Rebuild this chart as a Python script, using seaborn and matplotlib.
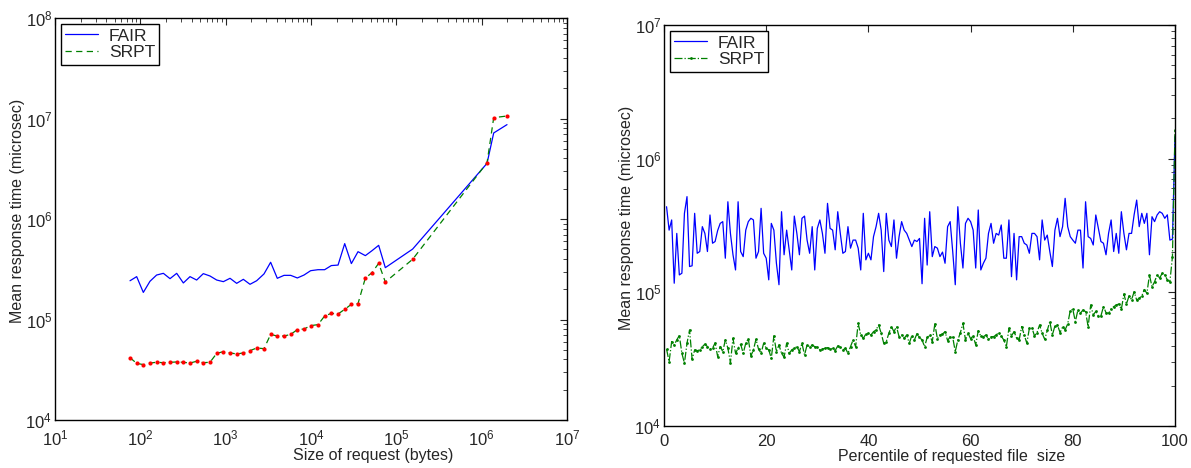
import numpy as np
import matplotlib
matplotlib.use("Agg")
import matplotlib.pyplot as plt
import seaborn as sns
from matplotlib.ticker import LogLocator, FixedLocator, NullFormatter

# left panel: mean response time by request size (bytes)
size_bytes = [75.7, 90.6, 108.4, 129.7, 155.2, 186.2, 222.8, 266.7, 319.2, 382.0,
              457.1, 547.0, 654.6, 785.2, 939.7, 1125, 1346, 1611, 1928, 2307,
              2812, 3365, 4027, 4831, 5781, 6918, 8279, 9908, 12078, 14454,
              17298, 20749, 24831, 29717, 35563, 43351, 51880, 62087, 74302, 155239,
              1156112, 1383566, 1981527]
fair_by_size = [243000, 267000, 186000, 240000, 277000, 288000, 255000, 288000, 231000, 267000,
                247000, 286000, 271000, 247000, 238000, 257000, 229000, 251000, 224000, 243000,
                284000, 371000, 257000, 275000, 275000, 259000, 277000, 306000, 313000, 313000,
                344000, 348000, 569000, 360000, 473000, 432000, 484000, 547000, 328000, 502000,
                3580000, 7180000, 8690000]
srpt_by_size = [41700, 36600, 35600, 36900, 37500, 37200, 37500, 37800, 37500, 36900,
                38400, 37200, 37500, 46000, 47900, 46500, 45400, 46500, 49000, 52000,
                51300, 71000, 68500, 68500, 71100, 79300, 80400, 86900, 88900, 108400,
                115100, 113500, 126200, 141600, 143900, 258800, 292400, 362200, 236000, 397200,
                3631000, 10190000, 10590000]

# right panel: mean response time by percentile of file size (thousands of microsec)
percentile = np.arange(0.5, 100.5, 0.5)
fair_by_pct_k = [
    437, 292, 348, 117, 276, 135, 139, 390, 520, 156,
    158, 390, 196, 202, 310, 276, 202, 379, 233, 240,
    290, 328, 338, 180, 476, 276, 191, 147, 476, 202,
    185, 292, 338, 358, 348, 180, 202, 425, 196, 180,
    124, 328, 292, 165, 114, 401, 191, 292, 208, 147,
    372, 276, 191, 358, 372, 246, 196, 310, 147, 301,
    348, 276, 196, 463, 301, 292, 208, 401, 276, 196,
    202, 310, 214, 246, 246, 214, 147, 390, 175, 196,
    175, 261, 310, 390, 292, 143, 390, 246, 220, 348,
    180, 261, 338, 292, 276, 246, 220, 246, 240, 253,
    116, 358, 160, 401, 185, 220, 214, 185, 200, 165,
    310, 338, 202, 114, 437, 233, 152, 328, 358, 338,
    292, 152, 413, 147, 165, 180, 276, 328, 233, 276,
    268, 319, 180, 180, 348, 131, 276, 124, 261, 261,
    233, 226, 196, 276, 276, 261, 175, 348, 246, 268,
    202, 156, 292, 358, 261, 310, 505, 310, 261, 246,
    233, 292, 292, 152, 476, 261, 253, 226, 379, 301,
    240, 233, 191, 276, 348, 202, 276, 196, 401, 276,
    208, 276, 276, 380, 490, 310, 390, 328, 390, 191,
    368, 338, 379, 401, 390, 358, 380, 246, 250, 1460]
srpt_by_pct_k = [
    37.6, 30.3, 42.8, 40.4, 44.1, 47.5, 35.0, 29.5, 41.6, 52.3,
    31.6, 37.1, 36.6, 37.1, 39.3, 40.9, 39.3, 37.6, 38.2, 41.8,
    33.1, 39.3, 36.0, 44.1, 38.2, 29.8, 45.3, 35.0, 38.2, 40.9,
    35.0, 41.6, 44.8, 33.4, 37.1, 44.5, 37.6, 35.0, 41.6, 38.2,
    37.1, 32.1, 47.2, 36.0, 40.4, 35.0, 32.7, 41.6, 35.0, 37.1,
    38.1, 39.2, 36.0, 41.6, 34.0, 40.4, 39.2, 40.4, 39.2, 38.8,
    37.1, 37.7, 38.1, 38.6, 37.5, 38.1, 36.7, 39.7, 39.2, 37.1,
    38.1, 35.0, 39.2, 44.0, 39.2, 58.6, 48.0, 45.3, 48.8, 49.4,
    48.0, 50.8, 52.3, 57.0, 49.4, 41.6, 42.8, 49.4, 55.4, 50.8,
    55.4, 46.6, 48.0, 45.3, 48.0, 41.6, 47.5, 44.0, 49.0, 46.0,
    44.0, 39.2, 46.0, 48.0, 42.8, 58.0, 45.0, 48.0, 48.8, 50.8,
    43.5, 46.6, 46.1, 36.0, 44.0, 50.0, 58.6, 44.0, 49.4, 45.0,
    47.2, 40.4, 51.7, 47.0, 46.6, 48.0, 44.5, 46.6, 46.6, 48.0,
    50.0, 47.0, 44.0, 39.2, 53.8, 47.2, 50.8, 45.5, 44.0, 55.4,
    48.0, 41.6, 53.8, 54.4, 47.2, 50.0, 57.0, 49.4, 44.5, 52.0,
    60.4, 48.0, 56.0, 57.0, 50.0, 55.0, 52.5, 58.0, 72.9, 74.6,
    60.4, 73.8, 70.0, 73.8, 71.7, 55.4, 80.4, 67.7, 72.0, 66.6,
    66.6, 78.1, 70.5, 69.7, 75.0, 78.1, 80.4, 81.8, 74.6, 97.2,
    81.8, 93.9, 88.0, 101, 87.6, 90.2, 93.9, 105, 98.3, 135,
    110, 120, 135, 128, 139, 135, 124, 120, 185, 1650]

fair_by_pct = np.array(fair_by_pct_k) * 1000
srpt_by_pct = np.array(srpt_by_pct_k) * 1000

sns.set_style("white")
plt.rcParams['font.family'] = ['Liberation Sans', 'DejaVu Sans']
plt.rcParams['font.size'] = 11.5
plt.rcParams['axes.linewidth'] = 1.0
plt.rcParams['xtick.direction'] = 'in'
plt.rcParams['ytick.direction'] = 'in'
plt.rcParams['xtick.labelsize'] = 12
plt.rcParams['ytick.labelsize'] = 12

blue = (0, 0, 1)
green = (0, 0.5, 0)

fig = plt.figure(figsize=(11.91, 4.68), dpi=100)
ax1 = fig.add_axes([55 / 1191, 48 / 468, 512 / 1191, 402 / 468])
ax2 = fig.add_axes([664 / 1191, 42 / 468, 511 / 1191, 401 / 468])

# left
sns.lineplot(x=size_bytes, y=fair_by_size, ax=ax1, color=blue, linewidth=0.9,
             label='FAIR', sort=False)
sns.lineplot(x=size_bytes, y=srpt_by_size, ax=ax1, color=green, linewidth=0.9,
             linestyle='--', dashes=False, label='SRPT', sort=False)
ax1.lines[-1].set_dashes([5, 3.5])
sns.scatterplot(x=size_bytes, y=srpt_by_size, ax=ax1, color='red', s=9,
                linewidth=0, legend=False, zorder=3)
ax1.set_xscale('log')
ax1.set_yscale('log')
ax1.set_xlim(1e1, 1e7)
ax1.set_ylim(1e4, 1e8)
ax1.set_xlabel('Size of request (bytes)')
ax1.set_ylabel('Mean response time (microsec)')
ax1.xaxis.set_label_coords((373 - 55) / 512, -0.07)
ax1.yaxis.set_label_coords(-0.058, 0.52)

# right
sns.lineplot(x=percentile, y=fair_by_pct, ax=ax2, color=blue, linewidth=0.9,
             label='FAIR', sort=False)
sns.lineplot(x=percentile, y=srpt_by_pct, ax=ax2, color=green, linewidth=0.9,
             linestyle='-.', marker='.', markersize=4, markeredgewidth=0,
             label='SRPT', sort=False)
ax2.set_yscale('log')
ax2.set_xlim(0, 100)
ax2.set_ylim(1e4, 1e7)
ax2.xaxis.set_major_locator(FixedLocator([0, 20, 40, 60, 80, 100]))
ax2.set_xlabel('Percentile of requested file  size')
ax2.set_ylabel('Mean response time (microsec)')
ax2.xaxis.set_label_coords((952 - 664) / 511, -0.057)
ax2.yaxis.set_label_coords(-0.058, 0.52)

for ax in (ax1, ax2):
    ax.tick_params(which='both', top=True, right=True)
    ax.tick_params(which='major', length=5, width=0.8)
    ax.tick_params(which='minor', length=3, width=0.6)
    ax.tick_params(axis='x', pad=6)
    ax.tick_params(axis='y', pad=2)
    ax.yaxis.set_minor_locator(LogLocator(base=10, subs=np.arange(2, 10)))
    ax.yaxis.set_minor_formatter(NullFormatter())
    for s in ax.spines.values():
        s.set_color('black')
        s.set_visible(True)
    leg = ax.legend(loc='upper left', fancybox=False, framealpha=1, edgecolor='black',
                    borderaxespad=0.35, handlelength=1.9, handletextpad=0.6,
                    borderpad=0.25, labelspacing=0.1, fontsize=12.5)
    leg.get_frame().set_linewidth(1.0)

ax1.xaxis.set_minor_locator(LogLocator(base=10, subs=np.arange(2, 10)))
ax1.xaxis.set_minor_formatter(NullFormatter())

fig.savefig('out.png', dpi=100, facecolor='white')
